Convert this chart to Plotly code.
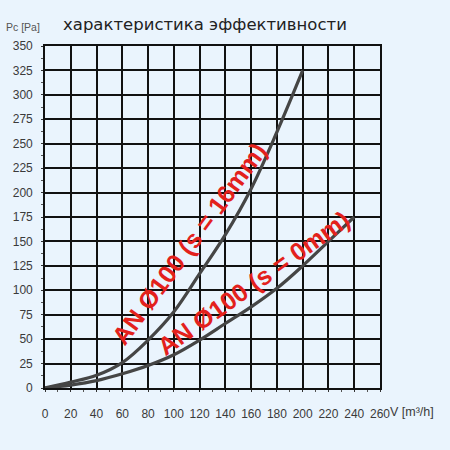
import plotly.graph_objects as go

# Data
flow_16 = [0, 20, 40, 60, 80, 100, 120, 140, 160, 180, 200]
pres_16 = [0, 6, 13, 26, 49, 78, 117, 157, 204, 262, 325]
flow_0 = [0, 20, 40, 60, 80, 100, 120, 140, 160, 180, 200, 220, 240]
pres_0 = [0, 3, 7.5, 14.5, 23, 34, 49, 66, 83, 102, 125, 150, 175]

x_ticks = list(range(0, 261, 20))
y_ticks = list(range(0, 351, 25))

label_16 = "AN Ø100 (s = 16mm)"
label_0 = "AN Ø100 (s = 0mm)"
title_text = "характеристика эффективности"
y_title = "Pc [Pa]"
x_title = "V [m³/h]"

bg = "#EAF4FD"
curve_color = "#454545"
red = "#E3211C"

fig = go.Figure()
fig.add_trace(go.Scatter(x=flow_16, y=pres_16, mode="lines",
                         line=dict(color=curve_color, width=3.2, shape="spline", smoothing=1.0),
                         hoverinfo="skip", showlegend=False))
fig.add_trace(go.Scatter(x=flow_0, y=pres_0, mode="lines",
                         line=dict(color=curve_color, width=3.2, shape="spline", smoothing=1.0),
                         hoverinfo="skip", showlegend=False))

axis_common = dict(
    showgrid=True, gridcolor="#111111", gridwidth=1.6,
    showline=True, linecolor="#111111", linewidth=1.6,
    zeroline=False, ticks="outside", ticklen=2, tickcolor="#333333",
    tickfont=dict(family="Liberation Sans, Arial, sans-serif", size=12, color="#3a3a3a"),
    mirror=True,
)

fig.update_xaxes(range=[0, 260], tickvals=x_ticks, ticktext=[str(v) for v in x_ticks],
                 ticklabelstandoff=12,
                 minor=dict(ticks="outside", ticklen=2, tickcolor="#555555", dtick=10, showgrid=False),
                 **axis_common)
fig.update_yaxes(range=[0, 350], tickvals=y_ticks, ticktext=[str(v) for v in y_ticks],
                 ticklabelstandoff=6,
                 minor=dict(ticks="outside", ticklen=2, tickcolor="#555555", dtick=12.5, showgrid=False),
                 **axis_common)

fig.add_annotation(x=111.6, y=147.5, xref="x", yref="y", text="<b>" + label_16 + "</b>", showarrow=False,
                   textangle=-53.8, xanchor="center", yanchor="middle",
                   font=dict(family="Liberation Sans, Arial, sans-serif", size=25, color=red))
fig.add_annotation(x=161.5, y=107.7, xref="x", yref="y", text="<b>" + label_0 + "</b>", showarrow=False,
                   textangle=-35.4, xanchor="center", yanchor="middle",
                   font=dict(family="Liberation Sans, Arial, sans-serif", size=25, color=red))

fig.add_annotation(x=1.033, y=-0.07, xref="paper", yref="paper", text=x_title, showarrow=False,
                   xanchor="left", yanchor="middle", xshift=-3,
                   font=dict(family="Liberation Sans, Arial, sans-serif", size=12.5, color="#3a3a3a"))

fig.update_layout(
    width=450, height=450,
    margin=dict(l=45, r=70, t=46, b=62),
    paper_bgcolor=bg, plot_bgcolor=bg,
    title=dict(text=title_text, x=63 / 450, xanchor="left", y=1 - 24 / 450, yanchor="middle",
               font=dict(family="DejaVu Sans, sans-serif", size=16.5, color="#222222")),
)
fig.add_annotation(x=-41 / 335, y=1 + (46 - 27) / 342, xref="paper", yref="paper", text=y_title,
                   showarrow=False, xanchor="left", yanchor="middle",
                   font=dict(family="Liberation Sans, Arial, sans-serif", size=10.5, color="#555555"))

fig.write_html("out.html", config={"displayModeBar": False},
               post_script="document.body.style.margin='0';document.body.style.background='#EAF4FD';")
